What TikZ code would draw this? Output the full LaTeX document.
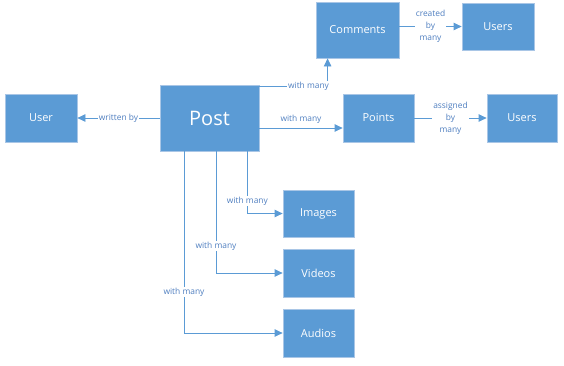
\documentclass[tikz,border=0pt]{standalone}
\usepackage{fontspec}
\setmainfont{Open Sans}
\usetikzlibrary{arrows.meta}
\definecolor{boxblue}{HTML}{5B9BD5}
\definecolor{boxedge}{HTML}{A9C6E6}
\definecolor{linkblue}{HTML}{5B9BD5}
\definecolor{textblue}{HTML}{4F7FC0}
\begin{document}
\begin{tikzpicture}[x=1pt, y=-1pt, every node/.style={font=\fontsize{8.4}{12}\selectfont},
  entity/.style={fill=boxblue, draw=boxedge, line width=0.8pt, text=white, inner sep=0pt,
    minimum width=71pt, minimum height=48pt, font=\fontsize{11}{13}\selectfont},
  link/.style={draw=linkblue, line width=0.8pt, -{Triangle[length=8pt,width=7.5pt]}},
  lbl/.style={text=textblue, fill=white, inner sep=1pt, align=center}]
\useasboundingbox (0,0) rectangle (564,365);
% entities
\node[entity, minimum width=99pt, minimum height=66pt, font=\fontsize{20}{24}\selectfont] (post) at (209.5,118) {Post};
\node[entity, minimum width=72pt] (user) at (41,118) {User};
\node[entity, minimum width=83pt, minimum height=56pt] (comments) at (357.5,30) {Comments};
\node[entity, minimum width=72pt, minimum height=47pt] (cusers) at (498,26.5) {Users};
\node[entity] (points) at (378.5,118) {Points};
\node[entity, minimum width=70pt] (pusers) at (522,118) {Users};
\node[entity, minimum height=47pt] (images) at (318.5,213.5) {Images};
\node[entity] (videos) at (318.5,273) {Videos};
\node[entity] (audios) at (318.5,333) {Audios};
% links
\draw[link] (post.west) -- node[lbl] {written by} (user.east);
\draw[link] ([yshift=-2pt]post.north east) -| node[lbl, pos=0.36] {with many} ([xshift=12pt]comments.south west);
\draw[link] ([yshift=-10pt]post.east) -- node[lbl, above=3pt, fill=none] {with many} ([yshift=-10pt]points.west);
\draw[link] (comments.east |- cusers.west) -- node[lbl] {created\\by\\many} (cusers.west);
\draw[link] (points.east) -- node[lbl] {assigned\\by\\many} (pusers.west);
\draw[link] ([xshift=-12pt]post.south east) |- node[lbl, pos=0.40] {with many} (images.west);
\draw[link] ([xshift=6.5pt]post.south) |- node[lbl, pos=0.39] {with many} (videos.west);
\draw[link] ([xshift=-25.5pt]post.south) |- node[lbl, pos=0.387] {with many} (audios.west);
\end{tikzpicture}
\end{document}
